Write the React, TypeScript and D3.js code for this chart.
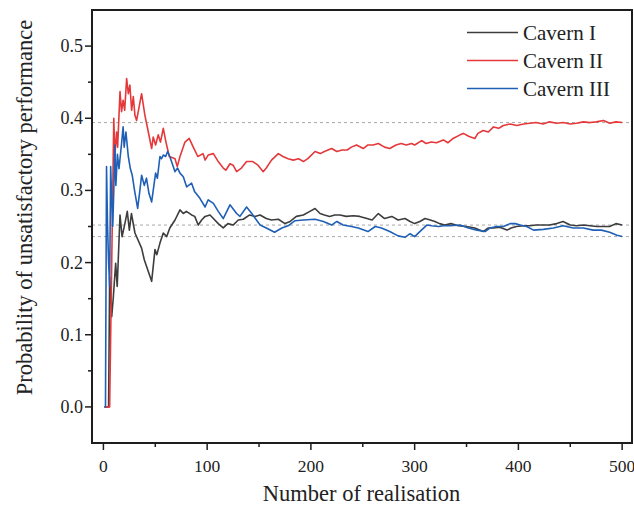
import React from "react";
import * as d3 from "d3";

// Running estimate of the probability of unsatisfactory performance
// after each realisation: [realisation, probability]
const cavernI: [number, number][] = [
  [1, 0], [5, 0], [6, 0.18], [8, 0.125], [9.5, 0.151], [11.8, 0.199], [13.3, 0.167], [16, 0.266],
  [18, 0.236], [20.7, 0.254], [23, 0.271], [25, 0.245], [27, 0.268], [30.4, 0.241], [36.8, 0.22],
  [39.4, 0.204], [46.5, 0.174], [49.7, 0.218], [51.5, 0.211], [54.5, 0.227], [57.7, 0.241], [61, 0.236],
  [64, 0.248], [69, 0.259], [73.8, 0.273], [77, 0.268], [80, 0.271], [85, 0.266], [88, 0.264],
  [91.4, 0.252], [94.7, 0.259], [98, 0.264], [102.7, 0.266], [106, 0.261], [110.7, 0.254], [115.5, 0.248],
  [120, 0.254], [125, 0.252], [130, 0.259], [134.8, 0.26], [141, 0.266], [146, 0.264], [151, 0.266],
  [157, 0.261], [162, 0.259], [168.6, 0.26], [175, 0.254], [180, 0.257], [186, 0.264], [192.7, 0.266],
  [199, 0.271], [204, 0.275], [208.8, 0.268], [213, 0.266], [218, 0.264], [223, 0.266], [228, 0.266],
  [234, 0.264], [241, 0.265], [247, 0.264], [254, 0.261], [259, 0.259], [265, 0.268], [271, 0.261],
  [278, 0.264], [284, 0.259], [290.7, 0.261], [295.6, 0.257], [300, 0.254], [305, 0.257], [310, 0.261],
  [315, 0.259], [319.5, 0.257], [324, 0.254], [329, 0.252], [335, 0.254], [342, 0.251], [350, 0.25],
  [358, 0.248], [366, 0.243], [371, 0.248], [376, 0.248], [382, 0.249], [389, 0.245], [393, 0.248],
  [398, 0.25], [405, 0.251], [411, 0.251], [417, 0.252], [424, 0.252], [430, 0.252], [437, 0.254],
  [443, 0.257], [450, 0.252], [456, 0.251], [462.7, 0.252], [469, 0.251], [475.6, 0.25], [482, 0.25],
  [488, 0.25], [494, 0.254], [500, 0.252],
];

const cavernII: [number, number][] = [
  [1, 0], [6, 0], [10, 0.4], [11, 0.347], [12.7, 0.381], [13.7, 0.36], [16, 0.437], [17.5, 0.409],
  [19, 0.425], [20.5, 0.411], [22.4, 0.455], [24, 0.434], [25.5, 0.446], [27.2, 0.411], [28.8, 0.43],
  [30.4, 0.404], [32, 0.397], [36.8, 0.434], [40, 0.404], [43, 0.383], [46.5, 0.358], [48, 0.374],
  [50.3, 0.363], [52.8, 0.377], [55, 0.367], [57.7, 0.386], [60.3, 0.367], [63.5, 0.347], [69, 0.344],
  [71.2, 0.333], [73.8, 0.347], [78.6, 0.367], [82.7, 0.372], [86.6, 0.36], [91, 0.347], [96, 0.351],
  [98, 0.342], [101, 0.349], [106, 0.351], [110.7, 0.34], [115.5, 0.331], [118, 0.328], [122, 0.337],
  [125, 0.335], [128.4, 0.326], [133, 0.331], [138, 0.34], [144, 0.34], [149, 0.335], [154, 0.326],
  [157, 0.331], [162, 0.342], [168.6, 0.351], [173, 0.347], [178, 0.344], [183, 0.342], [188, 0.344],
  [192.7, 0.34], [197, 0.344], [204, 0.354], [209, 0.351], [213, 0.354], [220, 0.358], [225, 0.354],
  [230, 0.356], [235, 0.356], [239, 0.36], [244, 0.363], [250.5, 0.358], [255, 0.363], [260, 0.363],
  [265, 0.365], [271, 0.36], [276, 0.358], [282, 0.363], [287, 0.365], [292, 0.363], [297, 0.365],
  [300, 0.363], [306.8, 0.369], [311, 0.365], [316, 0.367], [321, 0.366], [327.7, 0.37], [332, 0.366],
  [337, 0.372], [343.8, 0.377], [347, 0.379], [352, 0.375], [358, 0.372], [361, 0.379], [366, 0.383],
  [371, 0.381], [376, 0.388], [381, 0.386], [385.5, 0.39], [392, 0.392], [398.5, 0.39], [405, 0.392],
  [411, 0.393], [417, 0.394], [424, 0.392], [430, 0.395], [437, 0.393], [443, 0.394], [450, 0.392],
  [456, 0.393], [462.7, 0.395], [469, 0.394], [475, 0.395], [482, 0.397], [488, 0.393], [494, 0.395],
  [500, 0.394],
];

const cavernIII: [number, number][] = [
  [1, 0], [2, 0], [3, 0.333], [4, 0.25], [5, 0.2], [6, 0.167], [7, 0.333], [8, 0.286], [9, 0.25],
  [10, 0.3], [11, 0.363], [12, 0.307], [13.5, 0.35], [15, 0.33], [17.5, 0.365], [19, 0.388], [20, 0.36],
  [21.7, 0.381], [24, 0.347], [26, 0.33], [27.8, 0.321], [30, 0.3], [33, 0.275], [35, 0.298],
  [36.8, 0.321], [39.4, 0.307], [41.5, 0.317], [43.9, 0.296], [46.5, 0.284], [50.3, 0.324], [52, 0.317],
  [54.5, 0.347], [56, 0.344], [57.7, 0.349], [60, 0.347], [61.9, 0.354], [64, 0.347], [66.4, 0.337],
  [69, 0.326], [71.5, 0.331], [73.8, 0.324], [77, 0.319], [80.2, 0.305], [85, 0.31], [88, 0.298],
  [93, 0.289], [98, 0.277], [101, 0.287], [106, 0.282], [110.7, 0.271], [115.5, 0.261], [122, 0.28],
  [128.4, 0.268], [131.6, 0.264], [138, 0.277], [143, 0.268], [151, 0.252], [157, 0.248], [165, 0.242],
  [172, 0.248], [178, 0.251], [184.7, 0.258], [192.7, 0.259], [204, 0.26], [212, 0.257], [220, 0.252],
  [225, 0.257], [231, 0.252], [239, 0.25], [245.7, 0.248], [255, 0.243], [262, 0.25], [268, 0.248],
  [276, 0.243], [284, 0.237], [290.7, 0.235], [295.6, 0.24], [300, 0.236], [305, 0.243], [311.7, 0.252],
  [316.5, 0.251], [323, 0.25], [327.7, 0.251], [334, 0.251], [343.8, 0.252], [351.8, 0.248], [360, 0.245],
  [368, 0.243], [372.7, 0.248], [379, 0.25], [385.5, 0.25], [392, 0.254], [397, 0.254], [401.6, 0.252],
  [408, 0.25], [414.6, 0.245], [424, 0.246], [433.7, 0.248], [443, 0.251], [453, 0.248], [462.7, 0.248],
  [472, 0.245], [480, 0.245], [488, 0.242], [495, 0.238], [500, 0.236],
];

const seriesNames = ["Cavern I", "Cavern II", "Cavern III"];
const seriesColors = ["#3d3d3d", "#e5383b", "#1f60b6"];
const seriesData = [cavernI, cavernII, cavernIII];

// Converged values marked by dashed reference lines
const referenceLevels = [0.394, 0.252, 0.236];

const xMajorTicks = [0, 100, 200, 300, 400, 500];
const xMinorTicks = [50, 150, 250, 350, 450];
const yMajorTicks = [0, 0.1, 0.2, 0.3, 0.4, 0.5];
const yMinorTicks = [0.05, 0.15, 0.25, 0.35, 0.45];

const W = 634;
const H = 510;
const left = 92;
const right = 632;
const top = 10;
const bottom = 443;
const textStyle: React.CSSProperties = {
  fontFamily: '"Liberation Serif", "Times New Roman", Times, serif',
};

export default function App() {
  const x = d3.scaleLinear().domain([-11, 509.5]).range([left, right]);
  const y = d3.scaleLinear().domain([-0.05, 0.55]).range([bottom, top]);
  const line = d3
    .line<[number, number]>()
    .x((d) => x(d[0]))
    .y((d) => y(d[1]));

  const axisColor = "#1e1e1e";

  return (
    <svg
      width={W}
      height={H}
      style={{ position: "absolute", left: 0, top: 0, background: "#fff" }}
    >
      <defs>
        <clipPath id="plot-clip">
          <rect x={left} y={top} width={right - left} height={bottom - top} />
        </clipPath>
      </defs>

      {/* dashed reference lines */}
      {referenceLevels.map((v, i) => (
        <line
          key={`ref${i}`}
          x1={left}
          x2={right}
          y1={y(v)}
          y2={y(v)}
          stroke="#a8a8a8"
          strokeWidth={1}
          strokeDasharray="3,3"
        />
      ))}

      {/* series */}
      <g clipPath="url(#plot-clip)">
        {seriesData.map((data, i) => (
          <path
            key={seriesNames[i]}
            d={line(data) || ""}
            fill="none"
            stroke={seriesColors[i]}
            strokeWidth={1.6}
            strokeLinejoin="round"
          />
        ))}
      </g>

      {/* frame */}
      <rect
        x={left}
        y={top}
        width={right - left}
        height={bottom - top}
        fill="none"
        stroke={axisColor}
        strokeWidth={2}
      />

      {/* x ticks */}
      {xMajorTicks.map((t) => (
        <g key={`xM${t}`}>
          <line x1={x(t)} x2={x(t)} y1={bottom} y2={bottom + 7} stroke={axisColor} strokeWidth={1.5} />
          <text x={x(t)} y={472} fontSize={17.5} textAnchor="middle" fill="#222" style={textStyle}>
            {t}
          </text>
        </g>
      ))}
      {xMinorTicks.map((t) => (
        <line key={`xm${t}`} x1={x(t)} x2={x(t)} y1={bottom} y2={bottom + 4} stroke={axisColor} strokeWidth={1.5} />
      ))}

      {/* y ticks */}
      {yMajorTicks.map((t) => (
        <g key={`yM${t}`}>
          <line x1={left - 7} x2={left} y1={y(t)} y2={y(t)} stroke={axisColor} strokeWidth={1.5} />
          <text x={83} y={y(t) + 6} fontSize={18} textAnchor="end" fill="#222" style={textStyle}>
            {d3.format(".1f")(t)}
          </text>
        </g>
      ))}
      {yMinorTicks.map((t) => (
        <line key={`ym${t}`} x1={left - 4} x2={left} y1={y(t)} y2={y(t)} stroke={axisColor} strokeWidth={1.5} />
      ))}

      {/* axis titles */}
      <text x={361.5} y={501} fontSize={22.5} textAnchor="middle" fill="#222" style={textStyle}>
        Number of realisation
      </text>
      <text
        transform={`translate(31.5,207.5) rotate(-90)`}
        fontSize={22.5}
        textAnchor="middle"
        fill="#222"
        style={textStyle}
      >
        Probability of unsatisfactory performance
      </text>

      {/* legend */}
      {seriesNames.map((name, i) => {
        const cy = 32.5 + i * 28;
        return (
          <g key={`leg${i}`}>
            <line x1={467} x2={518} y1={cy} y2={cy} stroke={seriesColors[i]} strokeWidth={1.6} />
            <text x={523} y={cy + 7.5} fontSize={21} fill="#222" style={textStyle}>
              {name}
            </text>
          </g>
        );
      })}
    </svg>
  );
}
